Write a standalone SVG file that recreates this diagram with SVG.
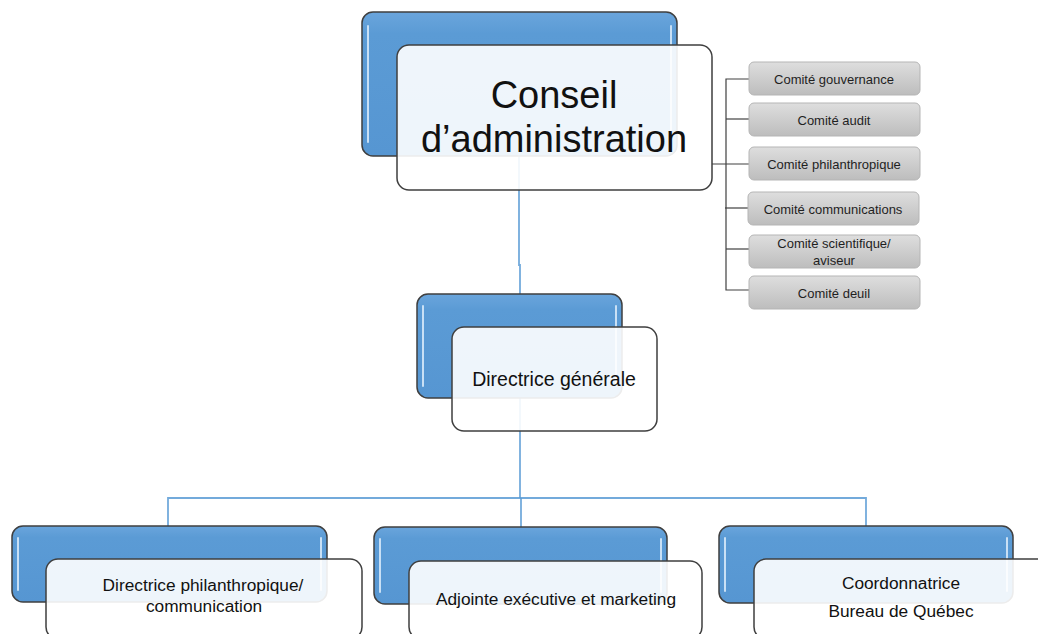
<svg xmlns="http://www.w3.org/2000/svg" width="1038" height="634" viewBox="0 0 1038 634">
<defs>
<linearGradient id="blueG" x1="0" y1="0" x2="0" y2="1">
<stop offset="0" stop-color="#6AA5DC"/>
<stop offset="0.15" stop-color="#5B9BD5"/>
<stop offset="1" stop-color="#5696D2"/>
</linearGradient>
<linearGradient id="grayG" x1="0" y1="0" x2="0" y2="1">
<stop offset="0" stop-color="#DEDEDE"/>
<stop offset="1" stop-color="#BDBDBD"/>
</linearGradient>
<style>
.blue{fill:url(#blueG);stroke:#3F3F3F;stroke-width:1.5}
.hl{stroke:#C9E0F5;stroke-width:2;stroke-linecap:round;fill:none}
.white{fill:#FFFFFF;fill-opacity:0.9;stroke:#3F3F3F;stroke-width:1.5}
.gray{fill:url(#grayG);stroke:#B5B5B5;stroke-width:1}
.conn{stroke:#5B9BD5;stroke-width:1.8;fill:none;stroke-opacity:0.85}
.dconn{stroke:#404040;stroke-width:1.2;fill:none}
text{font-family:"Liberation Sans",Arial,sans-serif;fill:#111111;text-anchor:middle}
.big{font-size:38px}
.mid{font-size:19.5px}
.bot{font-size:17.3px}
.com{font-size:13px;fill:#1F1F1F}
</style>
</defs>
<g id="connectors">
<polyline class="conn" points="519,156 519,265 520,265 520,294"/>
<polyline class="conn" points="520,398 520,498"/>
<polyline class="conn" points="168,526 168,498 866,498 866,526"/>
<line class="conn" x1="521" y1="498" x2="521" y2="527"/>
<polyline class="dconn" points="749,79 726,79 726,290 749,290"/>
<line class="dconn" x1="726" y1="119" x2="749" y2="119"/>
<line class="dconn" x1="712" y1="164" x2="749" y2="164"/>
<line class="dconn" x1="725" y1="208" x2="748" y2="208"/>
<line class="dconn" x1="726" y1="249" x2="749" y2="249"/>
</g>
<g id="conseil">
<rect class="blue" x="362" y="12" width="315" height="144" rx="11"/>
<line class="hl" x1="368" y1="26" x2="368" y2="142"/>
<line class="hl" x1="671" y1="26" x2="671" y2="142"/>
<rect class="white" x="397" y="45" width="315" height="145" rx="12"/>
<text class="big" x="554" y="108">Conseil</text>
<text class="big" x="554" y="152">d’administration</text>
</g>
<g id="comite-gouvernance">
<rect class="gray" x="749" y="62" width="171" height="33" rx="5"/>
<text class="com" x="834" y="83.5">Comité gouvernance</text>
</g>
<g id="comite-audit">
<rect class="gray" x="749" y="103" width="171" height="33" rx="5"/>
<text class="com" x="834" y="124.5">Comité audit</text>
</g>
<g id="comite-philanthropique">
<rect class="gray" x="749" y="147" width="171" height="33" rx="5"/>
<text class="com" x="834" y="168.5">Comité philanthropique</text>
</g>
<g id="comite-communications">
<rect class="gray" x="748" y="192" width="171" height="33" rx="5"/>
<text class="com" x="833" y="213.5">Comité communications</text>
</g>
<g id="comite-scientifique">
<rect class="gray" x="749" y="235" width="171" height="33" rx="5"/>
<text class="com" x="834" y="248">Comité scientifique/</text>
<text class="com" x="834" y="264.5">aviseur</text>
</g>
<g id="comite-deuil">
<rect class="gray" x="749" y="276" width="171" height="33" rx="5"/>
<text class="com" x="834" y="297.5">Comité deuil</text>
</g>
<g id="directrice-generale">
<rect class="blue" x="417" y="294" width="205" height="104" rx="11"/>
<line class="hl" x1="423" y1="306" x2="423" y2="386"/>
<line class="hl" x1="616" y1="306" x2="616" y2="386"/>
<rect class="white" x="452" y="327" width="205" height="104" rx="12"/>
<text class="mid" x="554" y="386">Directrice générale</text>
</g>
<g id="directrice-philanthropique">
<rect class="blue" x="12" y="526" width="315" height="76" rx="11"/>
<line class="hl" x1="18" y1="538" x2="18" y2="590"/>
<line class="hl" x1="321" y1="538" x2="321" y2="590"/>
<rect class="white" x="46" y="559" width="316" height="80" rx="12"/>
<text class="bot" x="203" y="591">Directrice philanthropique/</text>
<text class="bot" x="204" y="612">communication</text>
</g>
<g id="adjointe">
<rect class="blue" x="374" y="527" width="293" height="77" rx="11"/>
<line class="hl" x1="380" y1="539" x2="380" y2="592"/>
<line class="hl" x1="661" y1="539" x2="661" y2="592"/>
<rect class="white" x="409" y="561" width="293" height="78" rx="12"/>
<text class="bot" x="556" y="605">Adjointe exécutive et marketing</text>
</g>
<g id="coordonnatrice">
<rect class="blue" x="719" y="526" width="294" height="77" rx="11"/>
<line class="hl" x1="725" y1="538" x2="725" y2="591"/>
<line class="hl" x1="1007" y1="538" x2="1007" y2="591"/>
<rect class="white" x="754" y="559" width="310" height="80" rx="12"/>
<text class="bot" x="901" y="589">Coordonnatrice</text>
<text class="bot" x="901" y="617">Bureau de Québec</text>
</g>
</svg>
